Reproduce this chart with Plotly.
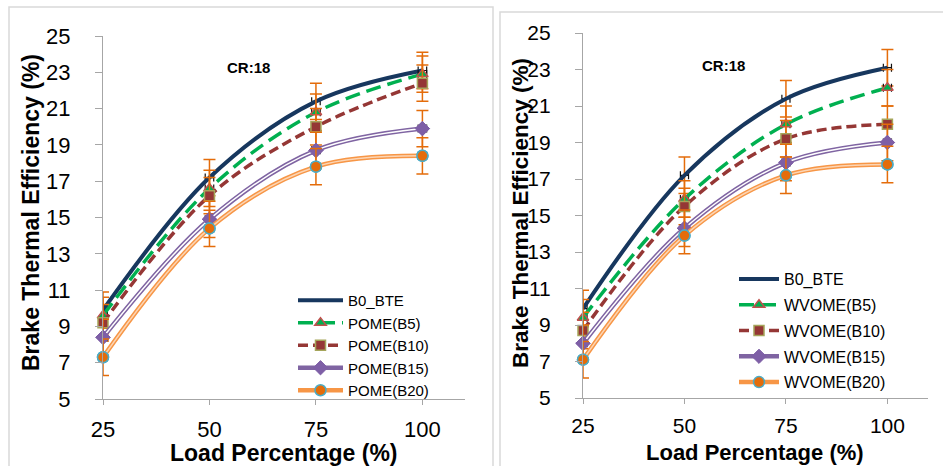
import plotly.graph_objects as go

# ---------------- data ----------------
loads = [25, 50, 75, 100]
y_ticks = [5, 7, 9, 11, 13, 15, 17, 19, 21, 23, 25]

b0_bte = [9.9, 17.2, 21.4, 23.1]

pome_b5 = [9.6, 16.6, 20.8, 22.9]
pome_b10 = [9.2, 16.2, 20.0, 22.4]
pome_b15 = [8.4, 14.9, 18.7, 19.9]
pome_b20 = [7.3, 14.4, 17.8, 18.4]

wvome_b5 = [9.4, 15.9, 20.0, 22.0]
wvome_b10 = [8.7, 15.5, 19.2, 20.0]
wvome_b15 = [8.0, 14.3, 17.9, 19.0]
wvome_b20 = [7.1, 13.9, 17.2, 17.8]

err_y = 1.0   # vertical error bar (+/-)
err_x = 1.0   # horizontal error bar (+/-)

left_names = ["B0_BTE", "POME(B5)", "POME(B10)", "POME(B15)", "POME(B20)"]
right_names = ["B0_BTE", "WVOME(B5)", "WVOME(B10)", "WVOME(B15)", "WVOME(B20)"]

FONT = "Liberation Sans, Arial, sans-serif"
W, H = 943, 466

# ---------------- styles ----------------
styles = [
    dict(color="#17375E", width=4, dash="solid", double=None, marker=None),
    dict(color="#00B050", width=3.5, dash="15px,7px", double=None,
         marker=dict(symbol="triangle-up", size=10, color="#00B050",
                     line=dict(color="#C0504D", width=1.5))),
    dict(color="#953735", width=3.5, dash="10px,5px", double=None,
         marker=dict(symbol="square", size=10, color="#953735",
                     line=dict(color="#A5A55A", width=1.5))),
    dict(color="#7F64A2", width=4.5, dash="solid", double="#FFFFFF",
         marker=dict(symbol="diamond", size=11, color="#7E5FA6",
                     line=dict(color="#7E5FA6", width=1))),
    dict(color="#F79646", width=4.5, dash="solid", double="#FCD5B4",
         marker=dict(symbol="circle", size=11, color="#E46C0A",
                     line=dict(color="#4BACC6", width=1.5))),
]

fig = go.Figure()


def add_panel(series, names, xa, ya, legend):
    for vals, name, st in zip(series, names, styles):
        mode = "lines+markers" if st["marker"] else "lines"
        kw = dict(marker=st["marker"]) if st["marker"] else {}
        fig.add_trace(go.Scatter(
            x=loads, y=vals, name=name, mode=mode,
            line=dict(color=st["color"], width=st["width"], dash=st["dash"],
                      shape="spline"),
            error_y=dict(type="constant", value=err_y, color="#E46C0A",
                         thickness=1.5, width=6),
            error_x=dict(type="constant", value=err_x, color="#111111",
                         thickness=1.2, width=4),
            xaxis=xa, yaxis=ya, legend=legend, legendgroup=legend + name,
            cliponaxis=False, hoverinfo="skip", **kw))
        if st["double"]:
            fig.add_trace(go.Scatter(
                x=loads, y=vals, mode="lines", showlegend=False,
                line=dict(color=st["double"], width=1.5, shape="spline"),
                xaxis=xa, yaxis=ya, hoverinfo="skip"))
            fig.add_trace(go.Scatter(
                x=loads, y=vals, mode="markers", showlegend=False,
                marker=st["marker"], xaxis=xa, yaxis=ya,
                cliponaxis=False, hoverinfo="skip"))


add_panel([b0_bte, pome_b5, pome_b10, pome_b15, pome_b20],
          left_names, "x", "y", "legend")
add_panel([b0_bte, wvome_b5, wvome_b10, wvome_b15, wvome_b20],
          right_names, "x2", "y2", "legend2")


def xaxis(domain, anchor, size, standoff):
    return dict(domain=domain, anchor=anchor, range=[25, 110],
                tickvals=loads, showline=True, linecolor="#A6A6A6",
                linewidth=1.2, ticks="outside", ticklen=5,
                tickcolor="#A6A6A6", showgrid=False, zeroline=False,
                automargin=False,
                tickfont=dict(family=FONT, size=size, color="black"),
                ticklabelstandoff=standoff)


def yaxis(domain, anchor, size, standoff):
    return dict(domain=domain, anchor=anchor, range=[5, 25],
                tickvals=y_ticks, showline=True, linecolor="#A6A6A6",
                linewidth=1.2, ticks="outside", ticklen=7,
                tickcolor="#A6A6A6", showgrid=False, zeroline=False,
                automargin=False,
                tickfont=dict(family=FONT, size=size, color="black"),
                ticklabelstandoff=standoff)


def px_x(v):
    return v / W


def px_y(v):
    return 1 - v / H


def note(text, x, y, size, angle=0):
    return dict(text=text, textangle=angle, x=px_x(x), y=px_y(y),
                xref="paper", yref="paper", xanchor="center",
                yanchor="middle", showarrow=False,
                font=dict(family=FONT, size=size, color="black",
                          weight="bold"))


fig.update_layout(
    template="none",
    width=W, height=H, margin=dict(l=0, r=0, t=0, b=0, autoexpand=False),
    paper_bgcolor="white", plot_bgcolor="white",
    xaxis=xaxis([px_x(103), px_x(465)], "y", 22, 5),
    yaxis=yaxis([px_y(399), px_y(36)], "x", 22, 20),
    xaxis2=xaxis([px_x(583), px_x(928)], "y2", 21, 4),
    yaxis2=yaxis([px_y(398), px_y(33)], "x2", 21, 20),
    legend=dict(x=px_x(293), y=px_y(284), xanchor="left", yanchor="top",
                bgcolor="rgba(0,0,0,0)", font=dict(family=FONT, size=15,
                                                   color="black"),
                tracegroupgap=0, itemwidth=45),
    legend2=dict(x=px_x(734), y=px_y(262), xanchor="left", yanchor="top",
                 bgcolor="rgba(0,0,0,0)", font=dict(family=FONT, size=16,
                                                    color="black"),
                 tracegroupgap=2, itemwidth=40),
    shapes=[
        dict(type="rect", xref="paper", yref="paper",
             x0=px_x(9), x1=px_x(493), y0=-0.1, y1=px_y(7),
             line=dict(color="#D9D9D9", width=1.5), layer="below"),
        dict(type="rect", xref="paper", yref="paper",
             x0=px_x(500), x1=1.1, y0=-0.1, y1=px_y(12),
             line=dict(color="#D9D9D9", width=1.5), layer="below"),
    ],
    annotations=[
        note("Brake Thermal Efficiency (%)", 31, 213, 23, -90),
        note("Load Percentage (%)", 284, 453, 23),
        note("Brake Thermal Efficiency (%)", 520, 213, 22.5, -90),
        note("Load Percentage (%)", 755, 452, 22),
        note("CR:18", 248, 67, 15),
        note("CR:18", 723, 66, 15),
    ],
)

fig.write_html("out.html")
